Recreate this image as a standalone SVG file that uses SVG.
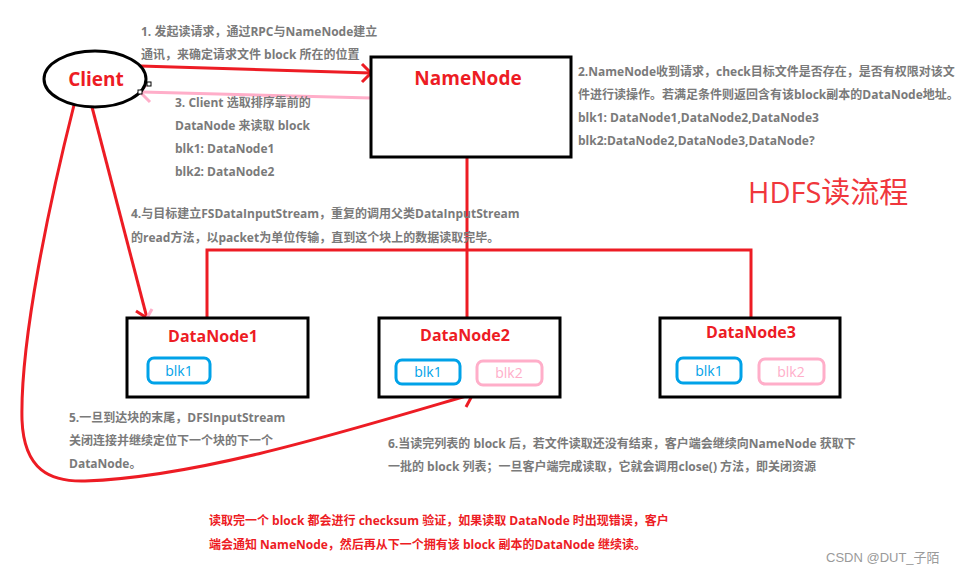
<svg xmlns="http://www.w3.org/2000/svg" width="970" height="576" viewBox="0 0 970 576">
<style>
.box{fill:#fff;stroke:#000;stroke-width:3}
.title{font-family:"Open Sans","Noto Sans CJK SC",sans-serif;font-weight:bold;fill:#ed1c24}
.note{font-family:"Open Sans","Noto Sans CJK SC",sans-serif;font-weight:bold;font-size:12px;fill:#7a7a7a}
.rnote{font-family:"Open Sans","Noto Sans CJK SC",sans-serif;font-weight:bold;font-size:12px;fill:#ed1c24}
.red{fill:none;stroke:#ed1c24;stroke-width:3}
.pink{fill:none;stroke:#ffaec9;stroke-width:3}
.b1{fill:#fff;stroke:#00a2e8;stroke-width:3}
.b2{fill:#fff;stroke:#ffaec9;stroke-width:3}
.t1{font-family:"Open Sans","Noto Sans CJK SC",sans-serif;font-size:14px;fill:#00a2e8;text-anchor:middle}
.t2{font-family:"Open Sans","Noto Sans CJK SC",sans-serif;font-size:14px;fill:#ffaec9;text-anchor:middle}
.handle{fill:#fff;stroke:#000;stroke-width:1}
</style>
<rect width="970" height="576" fill="#fff"/>

<g id="connectors">
  <path class="red" d="M140,66 L371,73"/>
  <path class="red" d="M362,64 L371,73 L362,82"/>
  <path class="pink" d="M371,98 L142,92"/>
  <path class="pink" d="M146,85 L140,92 L150,102"/>
  <path class="red" d="M467,157 L467,318"/>
  <path class="red" d="M207,318 L207,250 L751,250 L751,318"/>
  <path class="red" d="M92,107 L147,318"/>
  <path class="red" d="M136,311 L147,318"/>
  <path class="pink" d="M152,309 L147,318"/>
  <path class="red" d="M74,105 C50,200 20,340 22,420 C24,470 50,482 85,481 C200,477 350,430 473,394"/>
  <path class="red" d="M460,390 L473,394 L466,407"/>
</g>

<g id="client">
  <ellipse cx="95" cy="79" rx="51" ry="28" fill="#fff" stroke="#000" stroke-width="3"/>
  <text class="title" x="96" y="86" font-size="19" text-anchor="middle">Client</text>
  <rect class="handle" x="147" y="82" width="4" height="4"/>
  <rect class="handle" x="138" y="90" width="4" height="4"/>
</g>

<g id="namenode">
  <rect class="box" x="371" y="57" width="200" height="100"/>
  <text class="title" x="468" y="85" font-size="19" text-anchor="middle">NameNode</text>
</g>

<g id="datanode1">
  <rect class="box" x="127" y="318" width="181" height="79"/>
  <text class="title" x="213" y="342" font-size="16" text-anchor="middle">DataNode1</text>
  <rect class="b1" x="148" y="358" width="62" height="25" rx="6"/>
  <text class="t1" x="179" y="376">blk1</text>
</g>

<g id="datanode2">
  <rect class="box" x="379" y="318" width="181" height="79"/>
  <text class="title" x="465" y="341" font-size="16" text-anchor="middle">DataNode2</text>
  <rect class="b1" x="396" y="360" width="64" height="24" rx="6"/>
  <text class="t1" x="428" y="377">blk1</text>
  <rect class="b2" x="477" y="361" width="65" height="24" rx="6"/>
  <text class="t2" x="509" y="378">blk2</text>
</g>

<g id="datanode3">
  <rect class="box" x="660" y="318" width="180" height="79"/>
  <text class="title" x="751" y="338" font-size="16" text-anchor="middle">DataNode3</text>
  <rect class="b1" x="677" y="358" width="64" height="25" rx="6"/>
  <text class="t1" x="709" y="376">blk1</text>
  <rect class="b2" x="759" y="359" width="65" height="25" rx="6"/>
  <text class="t2" x="791" y="377">blk2</text>
</g>

<g id="notes">
  <text class="note" x="141" y="36">1. 发起读请求，通过RPC与NameNode建立</text>
  <text class="note" x="141" y="59">通讯，来确定请求文件 block 所在的位置</text>

  <text class="note" x="578" y="76">2.NameNode收到请求，check目标文件是否存在，是否有权限对该文</text>
  <text class="note" x="578" y="99">件进行读操作。若满足条件则返回含有该block副本的DataNode地址。</text>
  <text class="note" x="578" y="122">blk1: DataNode1,DataNode2,DataNode3</text>
  <text class="note" x="578" y="145">blk2:DataNode2,DataNode3,DataNode?</text>

  <text class="note" x="175" y="107">3. Client 选取排序靠前的</text>
  <text class="note" x="175" y="130">DataNode 来读取 block</text>
  <text class="note" x="175" y="153">blk1: DataNode1</text>
  <text class="note" x="175" y="176">blk2: DataNode2</text>

  <text class="note" x="131" y="218">4.与目标建立FSDataInputStream，重复的调用父类DataInputStream</text>
  <text class="note" x="131" y="242">的read方法，以packet为单位传输，直到这个块上的数据读取完毕。</text>

  <text class="note" x="69" y="422">5.一旦到达块的末尾，DFSInputStream</text>
  <text class="note" x="69" y="445">关闭连接并继续定位下一个块的下一个</text>
  <text class="note" x="69" y="468">DataNode。</text>

  <text class="note" x="388" y="448">6.当读完列表的 block 后，若文件读取还没有结束，客户端会继续向NameNode 获取下</text>
  <text class="note" x="388" y="471">一批的 block 列表；一旦客户端完成读取，它就会调用close() 方法，即关闭资源</text>

  <text class="rnote" x="209" y="525">读取完一个 block 都会进行 checksum 验证，如果读取 DataNode 时出现错误，客户</text>
  <text class="rnote" x="209" y="549">端会通知 NameNode，然后再从下一个拥有该 block 副本的DataNode 继续读。</text>

  <text x="748" y="203" font-family="'Open Sans','Noto Sans CJK SC',sans-serif" font-size="29" fill="#f0373c">HDFS读流程</text>

  <text x="826" y="562" font-family="'Liberation Sans','Noto Sans CJK SC',sans-serif" font-size="13" fill="#9a9a9a">CSDN @DUT_子陌</text>
</g>
</svg>
